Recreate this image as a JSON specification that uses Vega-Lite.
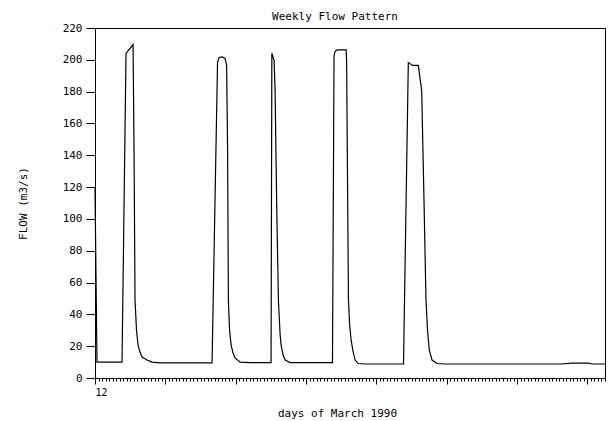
{
  "$schema": "https://vega.github.io/schema/vega-lite/v6.json",
  "width": 510,
  "height": 350,
  "autosize": "none",
  "padding": {"left": 95, "top": 28, "right": 3, "bottom": 43},
  "background": "white",
  "config": {"view": {"stroke": "black", "strokeWidth": 1}},
  "title": {"text": "Weekly Flow Pattern", "font": "DejaVu Sans Mono", "fontSize": 11, "fontWeight": "normal", "color": "black", "offset": 0, "dx": -15},
  "data": {"values": [
    {"day": 12.000, "flow": 120},
    {"day": 12.028, "flow": 10},
    {"day": 12.384, "flow": 10},
    {"day": 12.441, "flow": 204},
    {"day": 12.541, "flow": 209.6},
    {"day": 12.555, "flow": 143},
    {"day": 12.569, "flow": 49},
    {"day": 12.590, "flow": 30},
    {"day": 12.612, "flow": 20.7},
    {"day": 12.640, "flow": 16.3},
    {"day": 12.669, "flow": 13.2},
    {"day": 12.740, "flow": 11.3},
    {"day": 12.811, "flow": 10},
    {"day": 12.925, "flow": 9.5},
    {"day": 13.664, "flow": 9.5},
    {"day": 13.742, "flow": 198.3},
    {"day": 13.764, "flow": 201.5},
    {"day": 13.807, "flow": 201.8},
    {"day": 13.849, "flow": 200.9},
    {"day": 13.871, "flow": 196.5},
    {"day": 13.885, "flow": 143},
    {"day": 13.896, "flow": 49},
    {"day": 13.913, "flow": 30},
    {"day": 13.935, "flow": 20.7},
    {"day": 13.963, "flow": 15.7},
    {"day": 13.991, "flow": 12.6},
    {"day": 14.063, "flow": 10},
    {"day": 14.205, "flow": 9.7},
    {"day": 14.503, "flow": 9.7},
    {"day": 14.514, "flow": 204.2},
    {"day": 14.546, "flow": 199.6},
    {"day": 14.560, "flow": 180.8},
    {"day": 14.582, "flow": 111.7},
    {"day": 14.607, "flow": 49},
    {"day": 14.632, "flow": 27},
    {"day": 14.646, "flow": 20.7},
    {"day": 14.674, "flow": 14.4},
    {"day": 14.703, "flow": 11.3},
    {"day": 14.774, "flow": 9.7},
    {"day": 15.376, "flow": 9.7},
    {"day": 15.398, "flow": 202.7},
    {"day": 15.414, "flow": 205.3},
    {"day": 15.442, "flow": 206.2},
    {"day": 15.570, "flow": 206.3},
    {"day": 15.577, "flow": 199.6},
    {"day": 15.592, "flow": 111.7},
    {"day": 15.603, "flow": 49},
    {"day": 15.620, "flow": 33.3},
    {"day": 15.641, "flow": 23.9},
    {"day": 15.670, "flow": 16.3},
    {"day": 15.698, "flow": 11.3},
    {"day": 15.741, "flow": 9.1},
    {"day": 15.841, "flow": 8.8},
    {"day": 16.386, "flow": 8.8},
    {"day": 16.400, "flow": 49},
    {"day": 16.454, "flow": 198.3},
    {"day": 16.516, "flow": 196.5},
    {"day": 16.596, "flow": 196.5},
    {"day": 16.644, "flow": 180.8},
    {"day": 16.677, "flow": 111.7},
    {"day": 16.705, "flow": 49},
    {"day": 16.727, "flow": 30.1},
    {"day": 16.752, "flow": 17.6},
    {"day": 16.791, "flow": 11.3},
    {"day": 16.862, "flow": 9.1},
    {"day": 16.976, "flow": 8.8},
    {"day": 18.615, "flow": 8.8},
    {"day": 18.785, "flow": 9.4},
    {"day": 19.013, "flow": 9.4},
    {"day": 19.070, "flow": 8.8},
    {"day": 19.250, "flow": 8.8}
  ]},
  "layer": [
    {
      "mark": {"type": "line", "color": "black", "strokeWidth": 1.2},
      "encoding": {
        "x": {
          "field": "day", "type": "quantitative",
          "scale": {"domain": [12, 19.25], "nice": false, "zero": false},
          "axis": {
            "orient": "bottom",
            "values": [12, 13, 14, 15, 16, 17, 18, 19],
            "labelExpr": "datum.value == 12 ? '12' : ''",
            "grid": false,
            "tickSize": 6,
            "tickColor": "black",
            "domainColor": "black",
            "labelColor": "black",
            "labelFont": "DejaVu Sans Mono",
            "labelFontSize": 10,
            "labelPadding": 3,
            "title": "days of March 1990",
            "titleFont": "DejaVu Sans Mono",
            "titleFontSize": 11,
            "titleFontWeight": "normal",
            "titleColor": "black",
            "titlePadding": 10,
            "titleX": 242
          }
        },
        "y": {
          "field": "flow", "type": "quantitative",
          "scale": {"domain": [0, 220], "nice": false},
          "axis": {
            "orient": "left",
            "values": [0, 20, 40, 60, 80, 100, 120, 140, 160, 180, 200, 220],
            "labelOverlap": false,
            "grid": false,
            "tickSize": 9,
            "tickColor": "black",
            "domainColor": "black",
            "labelColor": "black",
            "labelFont": "DejaVu Sans Mono",
            "labelFontSize": 11,
            "labelPadding": 4,
            "title": "FLOW  (m3/s)",
            "titleFont": "DejaVu Sans Mono",
            "titleFontSize": 11,
            "titleFontWeight": "normal",
            "titleColor": "black",
            "titlePadding": 34
          }
        }
      }
    },
    {
      "mark": {"type": "line", "opacity": 0},
      "encoding": {
        "x": {
          "field": "day", "type": "quantitative",
          "axis": {
            "orient": "bottom",
            "tickCount": 200,
            "labels": false,
            "domain": false,
            "grid": false,
            "tickSize": 3,
            "tickColor": "black",
            "title": null
          }
        },
        "y": {
          "field": "flow", "type": "quantitative",
          "axis": {
            "orient": "left",
            "values": [0, 20, 40, 60, 80, 100, 120, 140, 160, 180, 200, 220],
            "labelOverlap": false,
            "grid": false,
            "tickSize": 9,
            "tickColor": "black",
            "domainColor": "black",
            "labelColor": "black",
            "labelFont": "DejaVu Sans Mono",
            "labelFontSize": 11,
            "labelPadding": 4,
            "title": "FLOW  (m3/s)",
            "titleFont": "DejaVu Sans Mono",
            "titleFontSize": 11,
            "titleFontWeight": "normal",
            "titleColor": "black",
            "titlePadding": 34
          }
        }
      }
    }
  ],
  "resolve": {"axis": {"x": "independent"}}
}
